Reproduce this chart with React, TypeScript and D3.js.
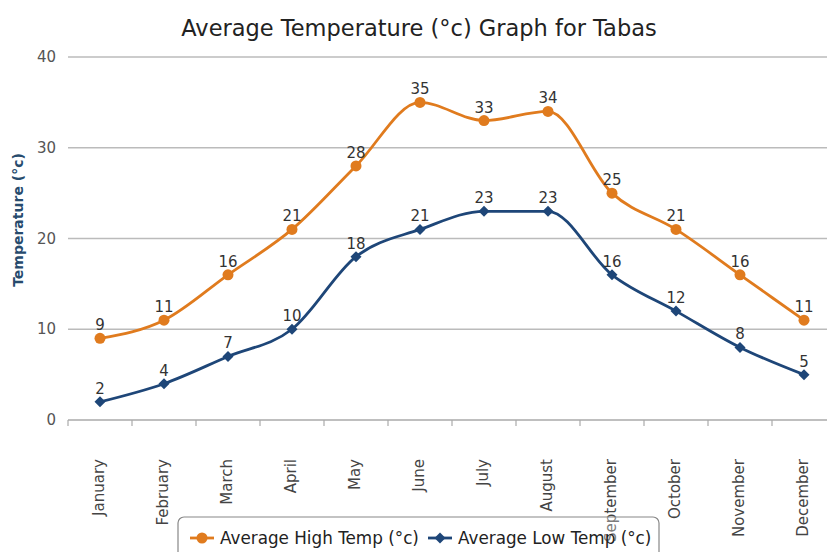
import React from "react";
import * as d3 from "d3";

const months = ["January","February","March","April","May","June","July","August","September","October","November","December"];
const highTemps = [9, 11, 16, 21, 28, 35, 33, 34, 25, 21, 16, 11];
const lowTemps = [2, 4, 7, 10, 18, 21, 23, 23, 16, 12, 8, 5];
const yTicks = [0, 10, 20, 30, 40];
const seriesNames = ["Average High Temp (°c)", "Average Low Temp (°c)"];
const title = "Average Temperature (°c) Graph for Tabas";
const yTitle = "Temperature (°c)";

const HIGH = "#e07b1e";
const LOW = "#1e4678";
const FONT = "'DejaVu Sans', Verdana, sans-serif";

export default function App() {
  const W = 827, H = 552;
  const left = 68, right = 836, top = 57, bottom = 420;
  const x = d3.scaleBand<string>().domain(months).range([left, right]);
  const y = d3.scaleLinear().domain([0, 40]).range([bottom, top]);
  const cx = (m: string) => (x(m) as number) + x.bandwidth() / 2;
  const line = d3.line<number>().x((_, i) => cx(months[i])).y(d => y(d)).curve(d3.curveMonotoneX);
  const tickXs = months.map(m => x(m) as number).concat([right]);
  const diamond = (s: number) => `M0,${-s}L${s},0L0,${s}L${-s},0Z`;

  return (
    <svg width={W} height={H} style={{ position: "absolute", left: 0, top: 0, background: "#fff" }} fontFamily={FONT}>
      <text x={419} y={36} textAnchor="middle" fontSize={22.5} fill="#222">{title}</text>
      {yTicks.map(t => (
        <g key={t}>
          {t > 0 && <line x1={left} x2={right} y1={y(t)} y2={y(t)} stroke="#bbb" strokeWidth={1.5} />}
          <text x={56} y={y(t) + 5} textAnchor="end" fontSize={15} fill="#555">{t}</text>
        </g>
      ))}
      <line x1={left} x2={right} y1={bottom} y2={bottom} stroke="#aaa" strokeWidth={1.5} />
      {tickXs.map((tx, i) => (
        <line key={i} x1={tx} x2={tx} y1={bottom} y2={bottom + 6} stroke="#aaa" strokeWidth={1.2} />
      ))}
      <text transform={`translate(23,220) rotate(-90)`} textAnchor="middle" fontSize={14} fontWeight="bold" fill="#274b6d">{yTitle}</text>
      {months.map(m => (
        <text key={m} transform={`translate(${cx(m) + 4},459) rotate(-90)`} textAnchor="end" fontSize={15} fill="#444">{m}</text>
      ))}
      <path d={line(highTemps) || ""} fill="none" stroke={HIGH} strokeWidth={2.8} />
      <path d={line(lowTemps) || ""} fill="none" stroke={LOW} strokeWidth={2.8} />
      {highTemps.map((v, i) => (
        <g key={"h" + i}>
          <circle cx={cx(months[i])} cy={y(v)} r={5.5} fill={HIGH} />
          <text x={cx(months[i])} y={y(v) - 8} textAnchor="middle" fontSize={15} fill="#333">{v}</text>
        </g>
      ))}
      {lowTemps.map((v, i) => (
        <g key={"l" + i}>
          <path d={diamond(5.5)} transform={`translate(${cx(months[i])},${y(v)})`} fill={LOW} />
          <text x={cx(months[i])} y={y(v) - 8} textAnchor="middle" fontSize={15} fill="#333">{v}</text>
        </g>
      ))}
      <rect x={178} y={517} width={481} height={50} rx={6} fill="#fff" fillOpacity={0.3} stroke="#888" strokeWidth={1.2} />
      <line x1={190} x2={214} y1={538} y2={538} stroke={HIGH} strokeWidth={2.8} />
      <circle cx={202} cy={538} r={5.5} fill={HIGH} />
      <text x={220} y={544} fontSize={16.8} fill="#222">{seriesNames[0]}</text>
      <line x1={428} x2={452} y1={538} y2={538} stroke={LOW} strokeWidth={2.8} />
      <path d={diamond(5.5)} transform="translate(440,538)" fill={LOW} />
      <text x={458} y={544} fontSize={16.8} fill="#222">{seriesNames[1]}</text>
    </svg>
  );
}
